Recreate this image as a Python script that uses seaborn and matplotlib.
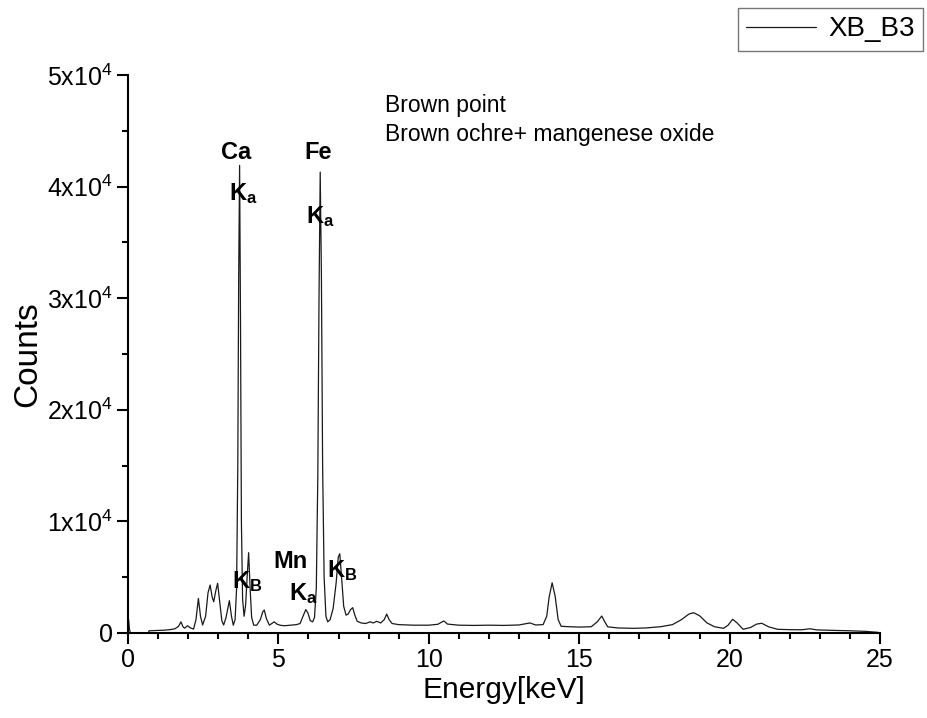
import matplotlib
matplotlib.use("Agg")
import matplotlib.pyplot as plt
import seaborn as sns
import pandas as pd

# ---- data ----
energy_kev = [0.0, 0.02, 0.05, 0.08, 0.68, 0.70, 0.9, 1.2, 1.4, 1.56, 1.68, 1.76, 1.83, 1.88, 1.98,
              2.08, 2.18, 2.26, 2.34, 2.41, 2.48, 2.58, 2.66, 2.73, 2.80, 2.85, 2.92, 2.98, 3.05,
              3.12, 3.18, 3.26, 3.37, 3.44, 3.50, 3.56, 3.61, 3.65, 3.68, 3.71, 3.74, 3.77, 3.81,
              3.86, 3.91, 3.96, 4.01, 4.06, 4.11, 4.18, 4.28, 4.40, 4.48, 4.53, 4.60, 4.70, 4.78,
              4.86, 4.95, 5.05, 5.2, 5.4, 5.6, 5.72, 5.82, 5.91, 5.98, 6.06, 6.14, 6.20, 6.26,
              6.31, 6.35, 6.39, 6.43, 6.47, 6.52, 6.58, 6.64, 6.72, 6.82, 6.92, 6.99, 7.04, 7.10,
              7.17, 7.25, 7.32, 7.40, 7.47, 7.54, 7.62, 7.75, 7.9, 8.05, 8.15, 8.27, 8.40, 8.52,
              8.60, 8.68, 8.78, 9.0, 9.5, 10.0, 10.3, 10.5, 10.62, 11.0, 11.5, 12.0, 12.5, 13.0,
              13.36, 13.55, 13.8, 13.92, 14.0, 14.1, 14.2, 14.3, 14.4, 14.7, 15.0, 15.4, 15.6,
              15.75, 15.85, 15.95, 16.3, 16.8, 17.2, 17.7, 18.1, 18.4, 18.65, 18.8, 19.0, 19.25,
              19.5, 19.8, 19.95, 20.1, 20.25, 20.45, 20.7, 20.9, 21.07, 21.3, 21.6, 22.0, 22.4,
              22.67, 22.9, 23.5, 24.0, 24.5, 24.93]
counts = [0, 1200, 300, 0, 0, 200, 220, 250, 300, 380, 600, 1000, 550, 430, 650,
          450, 350, 1200, 3100, 1500, 720, 1500, 3600, 4300, 3200, 2800, 3800, 4450, 2800,
          1100, 720, 1400, 2900, 1500, 700, 1200, 4000, 15000, 32000, 41900, 28000, 10000, 3000,
          1500, 2500, 5000, 7200, 4000, 1400, 700, 700, 1200, 1900, 2060, 1300, 700, 850,
          1000, 800, 700, 650, 700, 750, 850, 1500, 2100, 1800, 1100, 1000, 1400, 4000,
          14000, 30000, 41300, 32000, 15000, 5000, 1500, 1000, 1200, 2200, 4500, 6800, 7100, 5000,
          2400, 1600, 1700, 2100, 2270, 1600, 1050, 900, 850, 1000, 900, 1050, 900, 1200,
          1700, 1200, 850, 750, 700, 700, 780, 1080, 800, 700, 680, 700, 680, 720,
          900, 720, 750, 1500, 3200, 4500, 3300, 1200, 600, 560, 530, 560, 1000,
          1520, 1000, 550, 450, 420, 450, 560, 750, 1200, 1700, 1820, 1550, 900,
          560, 420, 700, 1230, 900, 330, 500, 800, 870, 550, 330, 300, 290,
          380, 280, 230, 200, 150, 60]

series_name = "XB_B3"
x_ticks = [0, 5, 10, 15, 20, 25]
y_ticks = [0, 10000, 20000, 30000, 40000, 50000]
y_tick_labels = ["0", r"1x10$^{4}$", r"2x10$^{4}$", r"3x10$^{4}$", r"4x10$^{4}$", r"5x10$^{4}$"]

# peak annotations: (text, energy, counts)
peak_labels = [
    (r"Ca", 3.59, 43100),
    (r"Fe", 6.32, 43100),
    (r"$\mathbf{K}_{\mathbf{a}}$", 3.82, 39400),
    (r"$\mathbf{K}_{\mathbf{a}}$", 6.41, 37300),
    (r"$\mathbf{K}_{\mathbf{B}}$", 3.96, 4600),
    (r"Mn", 5.39, 6400),
    (r"$\mathbf{K}_{\mathbf{a}}$", 5.82, 3500),
    (r"$\mathbf{K}_{\mathbf{B}}$", 7.13, 5600),
]
title_lines = ["Brown point", "Brown ochre+ mangenese oxide"]

df = pd.DataFrame({"Energy": energy_kev, "Counts": counts})

sns.set_theme(style="ticks")
plt.rcParams["font.family"] = ["Liberation Sans", "DejaVu Sans"]
plt.rcParams["mathtext.fontset"] = "custom"
plt.rcParams["mathtext.rm"] = "Liberation Sans"
plt.rcParams["mathtext.bf"] = "Liberation Sans:bold"
plt.rcParams["mathtext.it"] = "Liberation Sans:italic"
plt.rcParams["text.color"] = "black"
plt.rcParams["axes.labelcolor"] = "black"

fig = plt.figure(figsize=(9.28, 7.18), dpi=100)
ax = fig.add_axes([128 / 928, 1 - 633 / 718, (880 - 128) / 928, (633 - 75) / 718])

sns.lineplot(data=df, x="Energy", y="Counts", ax=ax, color="#1a1a1a", linewidth=0.9,
             estimator=None, sort=False, label=series_name)

ax.set_xlim(0, 25)
ax.set_ylim(0, 50000)
ax.set_xticks(x_ticks)
ax.set_xticklabels([str(t) for t in x_ticks])
ax.set_xticks([i for i in range(26) if i % 5 != 0], minor=True)
ax.set_yticks(y_ticks)
ax.set_yticklabels(y_tick_labels)
ax.set_yticks([5000, 15000, 25000, 35000, 45000], minor=True)

for s in ["top", "right"]:
    ax.spines[s].set_visible(False)
for s in ["left", "bottom"]:
    ax.spines[s].set_linewidth(1.5)
    ax.spines[s].set_color("black")
ax.tick_params(which="major", direction="out", length=8, width=1.5, labelsize=18, colors="black", pad=3)
ax.tick_params(which="minor", direction="out", length=4.5, width=1.5, colors="black")

ax.set_xlabel("Energy[keV]", fontsize=21.5, labelpad=3)
ax.set_ylabel("Counts", fontsize=24, labelpad=3)

for txt, ex, cy in peak_labels:
    ax.text(ex, cy, txt, fontsize=17, fontweight="bold", ha="center", va="center", color="black")

ax.text(8.55, 47300, title_lines[0], fontsize=16.5, ha="left", va="center", color="black")
ax.text(8.55, 44700, title_lines[1], fontsize=16.5, ha="left", va="center", color="black")

leg = ax.legend(loc="upper left", bbox_to_anchor=(738 / 928, 1 - 8 / 718),
                bbox_transform=fig.transFigure, fontsize=20, frameon=True, fancybox=False,
                handlelength=2.5, handletextpad=0.45, borderaxespad=0, borderpad=0.3)
leg.get_frame().set_edgecolor("#555555")
leg.get_frame().set_linewidth(1.0)
for t in leg.get_texts():
    t.set_color("black")

fig.savefig("out.png", dpi=100)
